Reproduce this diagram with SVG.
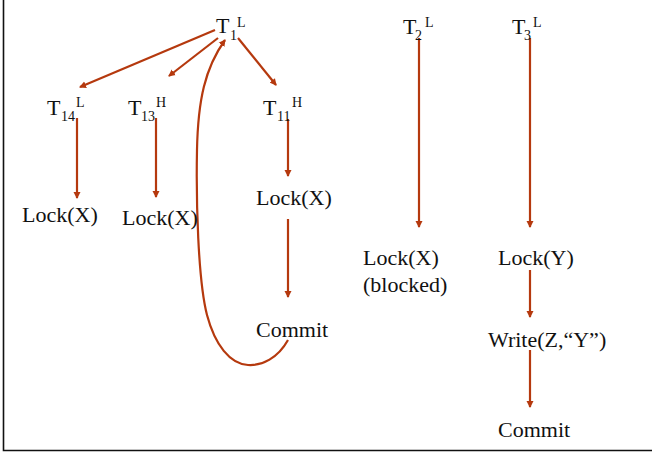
<svg xmlns="http://www.w3.org/2000/svg" width="652" height="454" viewBox="0 0 652 454" font-family="'Liberation Serif','Times New Roman',serif">
<style>
text{font-family:"Liberation Serif","Times New Roman",serif;fill:#111}
.m{font-size:22px}
.s{font-size:14px}
.c{fill:none;stroke:#B5390E;stroke-width:2.2}
</style>
<defs>
<marker id="ah" markerWidth="8" markerHeight="8" refX="6" refY="4" orient="auto" markerUnits="userSpaceOnUse">
<path d="M0,0.5 L7,4 L0,7.5 Z" fill="#B5390E"/>
</marker>
</defs>
<rect width="652" height="454" fill="#fff"/>
<path d="M3.5,0 V450.5 H652" fill="none" stroke="#111" stroke-width="1.6"/>
<g id="connectors">
<line class="c" x1="215" y1="30" x2="80" y2="87" marker-end="url(#ah)"/>
<line class="c" x1="218" y1="38" x2="169" y2="76" marker-end="url(#ah)"/>
<line class="c" x1="238" y1="38" x2="276" y2="85" marker-end="url(#ah)"/>
<line class="c" x1="77" y1="118" x2="77" y2="198" marker-end="url(#ah)"/>
<line class="c" x1="156" y1="118" x2="156" y2="197" marker-end="url(#ah)"/>
<line class="c" x1="288" y1="119" x2="288" y2="176" marker-end="url(#ah)"/>
<line class="c" x1="288" y1="219" x2="288" y2="297" marker-end="url(#ah)"/>
<line class="c" x1="419" y1="38" x2="419" y2="227" marker-end="url(#ah)"/>
<line class="c" x1="530" y1="38" x2="530" y2="227" marker-end="url(#ah)"/>
<line class="c" x1="530" y1="270" x2="530" y2="317" marker-end="url(#ah)"/>
<line class="c" x1="530" y1="350" x2="530" y2="407" marker-end="url(#ah)"/>
<path class="c" d="M288,340 C278,358 262,366 248,365 C230,364 215,345 207,315 C198,280 196,200 197,150 C198,100 205,68 225,40" marker-end="url(#ah)"/>
</g>
<g id="T1L"><text class="m" x="216" y="33">T</text><text class="s" x="230" y="40">1</text><text class="s" x="237" y="27">L</text></g>
<g id="T14L"><text class="m" x="47" y="115">T</text><text class="s" x="61" y="121">14</text><text class="s" x="76" y="107">L</text></g>
<g id="T13H"><text class="m" x="128" y="115">T</text><text class="s" x="141" y="121">13</text><text class="s" x="156" y="107">H</text></g>
<g id="T11H"><text class="m" x="263" y="115">T</text><text class="s" x="277" y="121">11</text><text class="s" x="292" y="107">H</text></g>
<g id="T2L"><text class="m" x="403" y="34">T</text><text class="s" x="415" y="40">2</text><text class="s" x="425" y="27">L</text></g>
<g id="T3L"><text class="m" x="512" y="34">T</text><text class="s" x="524" y="40">3</text><text class="s" x="533" y="27">L</text></g>
<g id="lock14"><text class="m" x="22" y="222">Lock(X)</text></g>
<g id="lock13"><text class="m" x="122" y="225">Lock(X)</text></g>
<g id="lock11"><text class="m" x="256" y="205">Lock(X)</text></g>
<g id="commit11"><text class="m" x="256" y="337">Commit</text></g>
<g id="lock2"><text class="m" x="363" y="265">Lock(X)</text><text class="m" x="363" y="292">(blocked)</text></g>
<g id="lock3"><text class="m" x="498" y="265">Lock(Y)</text></g>
<g id="write3"><text class="m" x="488" y="347">Write(Z,“Y”)</text></g>
<g id="commit3"><text class="m" x="498" y="437">Commit</text></g>
</svg>
